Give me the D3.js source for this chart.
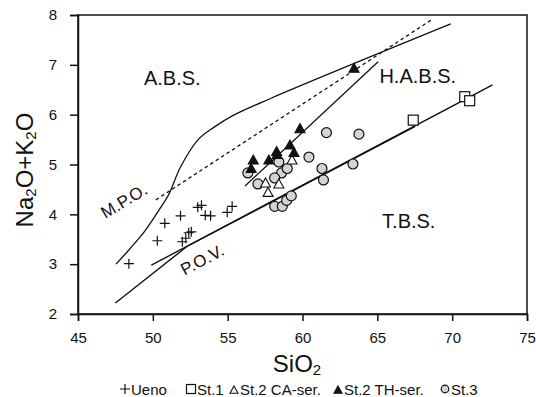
<!DOCTYPE html>
<html><head><meta charset="utf-8">
<script src="https://cdn.jsdelivr.net/npm/d3@7"></script>
<style>body{margin:0;background:#fff}svg{display:block}text{font-family:"Liberation Sans",Arial,Helvetica,sans-serif;fill:#111}</style>
</head><body><svg id="c" width="536" height="397"></svg>
<script>
// ---- data ----
const xTicks = [45, 50, 55, 60, 65, 70, 75];
const yTicks = [2, 3, 4, 5, 6, 7, 8];
const ueno = [[48.4,3.01],[50.3,3.47],[50.8,3.82],[51.85,3.97],[51.97,3.45],[52.2,3.52],[52.4,3.63],[52.57,3.65],[53.0,4.14],[53.25,4.18],[53.5,3.98],[53.86,3.97],[54.97,4.04],[55.3,4.16]];
const st1 = [[67.4,5.89],[70.84,6.36],[71.17,6.28]];
const st2CA = [[57.53,4.63],[57.7,4.44],[58.42,4.61],[59.3,5.09]];
const st2TH = [[56.71,5.09],[56.57,4.92],[57.75,5.09],[58.27,5.26],[58.3,5.2],[59.43,5.24],[59.16,5.39],[59.83,5.72],[63.44,6.93]];
const st3 = [[56.35,4.83],[57.02,4.61],[58.42,5.05],[58.6,4.83],[58.98,4.92],[58.14,4.73],[60.43,5.15],[61.6,5.64],[63.77,5.61],[61.3,4.92],[61.4,4.69],[63.37,5.01],[58.14,4.16],[58.65,4.16],[58.94,4.28],[59.25,4.37]];
const mpoCurve = [[47.54,3.0],[48.5,3.32],[49.5,3.68],[50.4,4.08],[51.05,4.39],[51.85,4.95],[53.0,5.49],[54.1,5.75],[55.4,5.99],[57.9,6.33],[69.9,7.82]];
const dashedLine = [[50.2,4.29],[68.6,7.9]];
const st2Line = [[56.16,4.57],[65.05,7.06]];
const povLine = [[49.9,2.98],[72.7,6.6]];
const lowerLine = [[47.5,2.22],[52.3,3.36],[67.5,5.76]];
const regionLabels = [["A.B.S.",51.3,6.6],["H.A.B.S.",67.7,6.63],["T.B.S.",67.1,3.72]];
const legendItems = [["cross","Ueno"],["square","St.1"],["tri","St.2 CA-ser."],["trifill","St.2 TH-ser."],["circle","St.3"]];

// ---- layout ----
const svg = d3.select("#c");
const x = d3.scaleLinear().domain([45,75]).range([78,527]);
const y = d3.scaleLinear().domain([2,8]).range([314,15]);
const line = d3.line().x(d=>x(d[0])).y(d=>y(d[1]));

svg.append("rect").attr("x",78).attr("y",15).attr("width",449).attr("height",299)
  .attr("fill","none").attr("stroke","#111").attr("stroke-width",1.5);

const gx = svg.append("g").attr("transform","translate(0,314)")
  .call(d3.axisBottom(x).tickValues(xTicks).tickSize(7).tickPadding(11).tickFormat(d3.format("d")));
const gy = svg.append("g").attr("transform","translate(78,0)")
  .call(d3.axisLeft(y).tickValues(yTicks).tickSize(8).tickPadding(13).tickFormat(d3.format("d")));
[gx,gy].forEach(g=>{
  g.select(".domain").attr("stroke","#111").attr("stroke-width",1.5);
  g.selectAll(".tick line").attr("stroke","#111").attr("stroke-width",1.5);
  g.selectAll(".tick text").attr("font-size",15).attr("font-family","Liberation Sans, Arial, sans-serif").attr("fill","#111");
});

svg.append("path").attr("d",d3.line().x(d=>x(d[0])).y(d=>y(d[1])).curve(d3.curveCatmullRom)(mpoCurve))
  .attr("fill","none").attr("stroke","#111").attr("stroke-width",1.3);
svg.append("path").attr("d",line(dashedLine)).attr("fill","none").attr("stroke","#111").attr("stroke-width",1.3).attr("stroke-dasharray","3.5,3");
svg.append("path").attr("d",line(st2Line)).attr("fill","none").attr("stroke","#111").attr("stroke-width",1.3);
svg.append("path").attr("d",line(povLine)).attr("fill","none").attr("stroke","#111").attr("stroke-width",1.4);
svg.append("path").attr("d",line(lowerLine)).attr("fill","none").attr("stroke","#111").attr("stroke-width",1.4);

regionLabels.forEach(([t,a,b])=>{
  svg.append("text").attr("x",x(a)).attr("y",y(b)).attr("text-anchor","middle").attr("font-size",20).text(t);
});
svg.append("text").attr("transform","translate(127,206) rotate(-31)").attr("text-anchor","middle").attr("font-size",17).text("M.P.O.");
svg.append("text").attr("transform","translate(205,265) rotate(-28)").attr("text-anchor","middle").attr("font-size",17).text("P.O.V.");

function sym(g,type,cx,cy,s){
  if(type==="cross"){
    g.append("path").attr("d",`M${cx-s},${cy}H${cx+s}M${cx},${cy-s}V${cy+s}`).attr("stroke","#111").attr("stroke-width",1.2).attr("fill","none");
  } else if(type==="square"){
    g.append("rect").attr("x",cx-s).attr("y",cy-s).attr("width",2*s).attr("height",2*s).attr("fill","#fff").attr("stroke","#111").attr("stroke-width",1.2);
  } else if(type==="tri"||type==="trifill"){
    g.append("path").attr("d",`M${cx},${cy-s}L${cx+s},${cy+s*0.8}L${cx-s},${cy+s*0.8}Z`)
      .attr("fill",type==="trifill"?"#111":"#fff").attr("stroke","#111").attr("stroke-width",1.1);
  } else if(type==="circle"){
    g.append("circle").attr("cx",cx).attr("cy",cy).attr("r",s).attr("fill","#d4d4d4").attr("stroke","#111").attr("stroke-width",1.2);
  }
}
const mk = svg.append("g");
ueno.forEach(d=>sym(mk,"cross",x(d[0]),y(d[1]),5));
st3.forEach(d=>sym(mk,"circle",x(d[0]),y(d[1]),5));
st2CA.forEach(d=>sym(mk,"tri",x(d[0]),y(d[1]),5));
st2TH.forEach(d=>sym(mk,"trifill",x(d[0]),y(d[1]),5));
st1.forEach(d=>sym(mk,"square",x(d[0]),y(d[1]),5));

const xt = svg.append("text").attr("x",297).attr("y",372).attr("text-anchor","middle").attr("font-size",24);
xt.append("tspan").text("SiO");
xt.append("tspan").attr("font-size",15).attr("dy",3).text("2");
const yt = svg.append("text").attr("transform","translate(33,170) rotate(-90)").attr("text-anchor","middle").attr("font-size",24);
yt.append("tspan").text("Na");
yt.append("tspan").attr("font-size",15).attr("dy",3).text("2");
yt.append("tspan").attr("dy",-3).text("O+K");
yt.append("tspan").attr("font-size",15).attr("dy",3).text("2");
yt.append("tspan").attr("dy",-3).text("O");

const legX = [125, 191, 234, 338, 445];
const lg = svg.append("g");
legendItems.forEach(([t,lab],i)=>{
  const cx = legX[i];
  if(t==="cross") sym(lg,t,cx,389,5);
  else if(t==="square") sym(lg,t,cx,389,4.5);
  else if(t==="circle") sym(lg,t,cx,389,3.8);
  else sym(lg,t,cx,390,4);
  lg.append("text").attr("x",cx+6).attr("y",394.5).attr("font-size",15).text(lab);
});
</script></body></html>
